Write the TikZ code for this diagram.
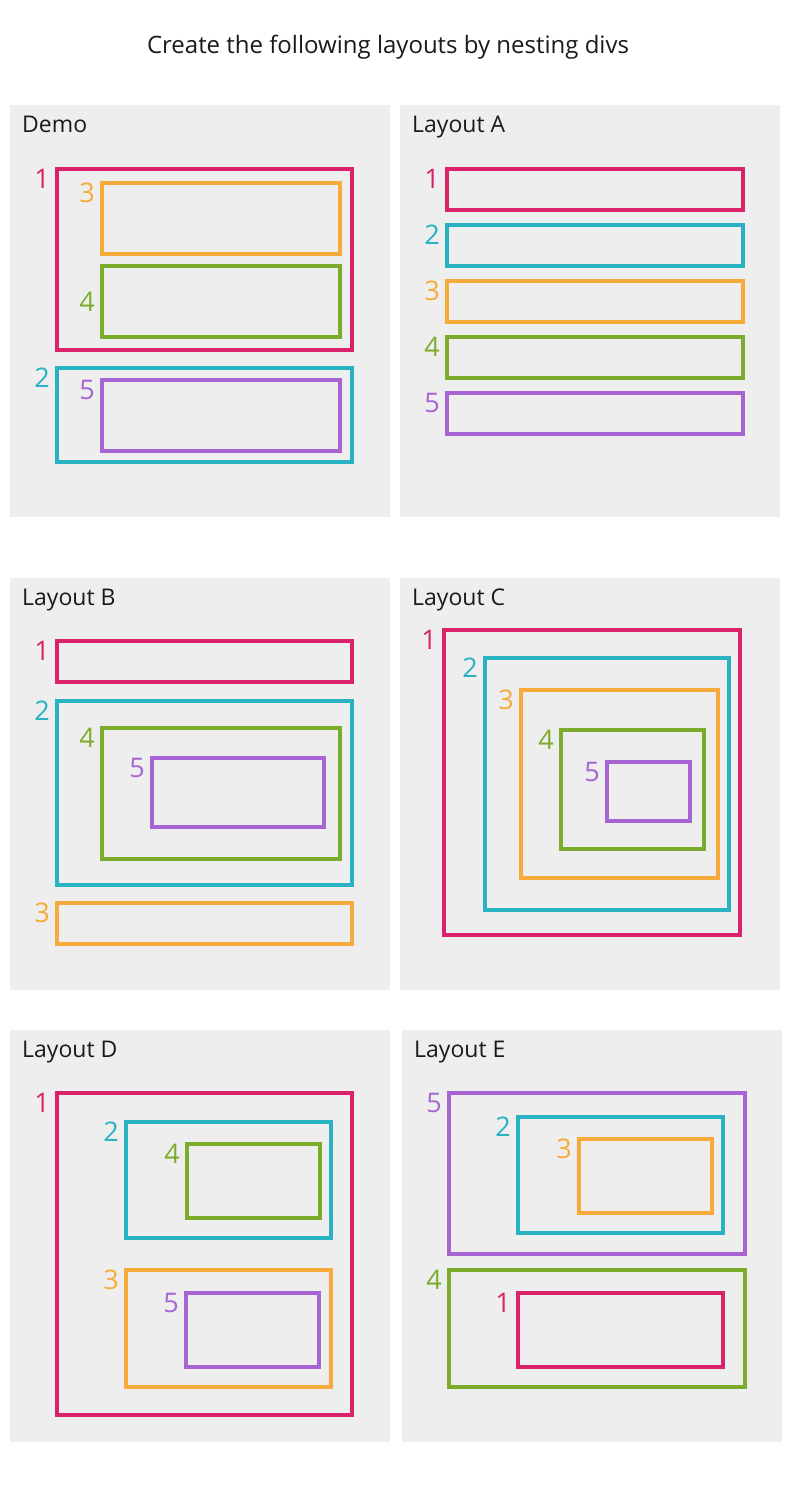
\documentclass[tikz,border=0pt]{standalone}
\usepackage{fontspec}
\setmainfont{Open Sans}
\usepackage{xcolor}
\usetikzlibrary{positioning}

\definecolor{divpink}{HTML}{D9246B}
\definecolor{divcyan}{HTML}{29B2C2}
\definecolor{divorange}{HTML}{F6AB3A}
\definecolor{divgreen}{HTML}{7BAC2C}
\definecolor{divpurple}{HTML}{A665D2}
\definecolor{panelgray}{HTML}{EEEEEE}
\definecolor{inkblack}{HTML}{1A1A1A}

\begin{document}
\begin{tikzpicture}[
    x=1pt, y=-1pt,
    panel/.style={
      fill=panelgray, inner sep=0pt, outer sep=0pt, anchor=north west,
      minimum width=380pt, minimum height=412pt
    },
    ptitle/.style={
      font=\fontsize{23}{27}\selectfont, text=inkblack,
      inner sep=0pt, anchor=base west
    },
    div/.style={
      draw, line width=3.5pt, inner sep=0pt, outer sep=0pt, anchor=north west
    },
    wh/.style 2 args={minimum width=#1pt, minimum height=#2pt},
    num/.style={font=\fontsize{27}{30}\selectfont, inner sep=0pt},
    one/.style={color=divpink},
    two/.style={color=divcyan},
    three/.style={color=divorange},
    four/.style={color=divgreen},
    five/.style={color=divpurple}
  ]

    \useasboundingbox (0,0) rectangle (800,1500);

    % Heading
    \node[ptitle, anchor=base, font=\fontsize{24}{28}\selectfont] (head) at (388,53) {Create the following layouts by nesting divs};

    % Panels
    \node[panel] (demo) at (10,105)  {};
    \node[panel] (layA) at (400,105) {};
    \node[panel] (layB) at (10,578)  {};
    \node[panel] (layC) at (400,578) {};
    \node[panel] (layD) at (10,1030) {};
    \node[panel] (layE) at (402,1030) {};

    \node[ptitle] (demot) at ([xshift=12pt, yshift=-27pt]demo.north west) {Demo};
    \node[ptitle] (layAt) at ([xshift=12pt, yshift=-27pt]layA.north west) {Layout A};
    \node[ptitle] (layBt) at ([xshift=12pt, yshift=-27pt]layB.north west) {Layout B};
    \node[ptitle] (layCt) at ([xshift=12pt, yshift=-27pt]layC.north west) {Layout C};
    \node[ptitle] (layDt) at ([xshift=12pt, yshift=-27pt]layD.north west) {Layout D};
    \node[ptitle] (layEt) at ([xshift=12pt, yshift=-27pt]layE.north west) {Layout E};

    % Demo
    \node[div, one,   wh={295}{181}] (d1) at (57,169)  {};
    \node[div, three, wh={238}{71}]  (d3) at (102,183) {};
    \node[div, four,  wh={238}{71}]  (d4) at (102,266) {};
    \node[div, two,   wh={295}{94}]  (d2) at (57,368)  {};
    \node[div, five,  wh={238}{71}]  (d5) at (102,380) {};
    \node[num, one,   left=7pt of d1.north west, anchor=north east] (d1n) {1};
    \node[num, three, left=7pt of d3.north west, anchor=north east] (d3n) {3};
    \node[num, four,  left=7pt of d4.west] (d4n) {4};
    \node[num, two,   left=7pt of d2.north west, anchor=north east] (d2n) {2};
    \node[num, five,  left=7pt of d5.north west, anchor=north east] (d5n) {5};

    % Layout A
    \node[div, one,   wh={296}{41}] (a1) at (447,169) {};
    \node[div, two,   wh={296}{41}] (a2) at (447,225) {};
    \node[div, three, wh={296}{41}] (a3) at (447,281) {};
    \node[div, four,  wh={296}{41}] (a4) at (447,337) {};
    \node[div, five,  wh={296}{41}] (a5) at (447,393) {};
    \node[num, one,   left=7pt of a1.north west, anchor=north east] (a1n) {1};
    \node[num, two,   left=7pt of a2.north west, anchor=north east] (a2n) {2};
    \node[num, three, left=7pt of a3.north west, anchor=north east] (a3n) {3};
    \node[num, four,  left=7pt of a4.north west, anchor=north east] (a4n) {4};
    \node[num, five,  left=7pt of a5.north west, anchor=north east] (a5n) {5};

    % Layout B
    \node[div, one,   wh={295}{41}]  (b1) at (57,641)  {};
    \node[div, two,   wh={295}{184}] (b2) at (57,701)  {};
    \node[div, four,  wh={238}{131}] (b4) at (102,728) {};
    \node[div, five,  wh={172}{69}]  (b5) at (152,758) {};
    \node[div, three, wh={295}{41}]  (b3) at (57,903)  {};
    \node[num, one,   left=7pt of b1.north west, anchor=north east] (b1n) {1};
    \node[num, two,   left=7pt of b2.north west, anchor=north east] (b2n) {2};
    \node[num, four,  left=7pt of b4.north west, anchor=north east] (b4n) {4};
    \node[num, five,  left=7pt of b5.north west, anchor=north east] (b5n) {5};
    \node[num, three, left=7pt of b3.north west, anchor=north east] (b3n) {3};

    % Layout C
    \node[div, one,   wh={296}{305}] (c1) at (444,630) {};
    \node[div, two,   wh={244}{252}] (c2) at (485,658) {};
    \node[div, three, wh={197}{188}] (c3) at (521,690) {};
    \node[div, four,  wh={143}{119}] (c4) at (561,730) {};
    \node[div, five,  wh={83}{59}]   (c5) at (607,762) {};
    \node[num, one,   left=7pt of c1.north west, anchor=north east] (c1n) {1};
    \node[num, two,   left=7pt of c2.north west, anchor=north east] (c2n) {2};
    \node[num, three, left=7pt of c3.north west, anchor=north east] (c3n) {3};
    \node[num, four,  left=7pt of c4.north west, anchor=north east] (c4n) {4};
    \node[num, five,  left=7pt of c5.north west, anchor=north east] (c5n) {5};

    % Layout D
    \node[div, one,   wh={295}{322}] (dd1) at (57,1093)  {};
    \node[div, two,   wh={205}{116}] (dd2) at (126,1122) {};
    \node[div, four,  wh={133}{74}]  (dd4) at (187,1144) {};
    \node[div, three, wh={205}{117}] (dd3) at (126,1270) {};
    \node[div, five,  wh={133}{74}]  (dd5) at (186,1293) {};
    \node[num, one,   left=7pt of dd1.north west, anchor=north east] (dd1n) {1};
    \node[num, two,   left=7pt of dd2.north west, anchor=north east] (dd2n) {2};
    \node[num, four,  left=7pt of dd4.north west, anchor=north east] (dd4n) {4};
    \node[num, three, left=7pt of dd3.north west, anchor=north east] (dd3n) {3};
    \node[num, five,  left=7pt of dd5.north west, anchor=north east] (dd5n) {5};

    % Layout E
    \node[div, five,  wh={296}{161}] (e5) at (449,1093) {};
    \node[div, two,   wh={205}{116}] (e2) at (518,1117) {};
    \node[div, three, wh={133}{74}]  (e3) at (579,1139) {};
    \node[div, four,  wh={296}{117}] (e4) at (449,1270) {};
    \node[div, one,   wh={205}{74}]  (e1) at (518,1293) {};
    \node[num, five,  left=7pt of e5.north west, anchor=north east] (e5n) {5};
    \node[num, two,   left=7pt of e2.north west, anchor=north east] (e2n) {2};
    \node[num, three, left=7pt of e3.north west, anchor=north east] (e3n) {3};
    \node[num, four,  left=7pt of e4.north west, anchor=north east] (e4n) {4};
    \node[num, one,   left=7pt of e1.north west, anchor=north east] (e1n) {1};

  \end{tikzpicture}
\end{document}
